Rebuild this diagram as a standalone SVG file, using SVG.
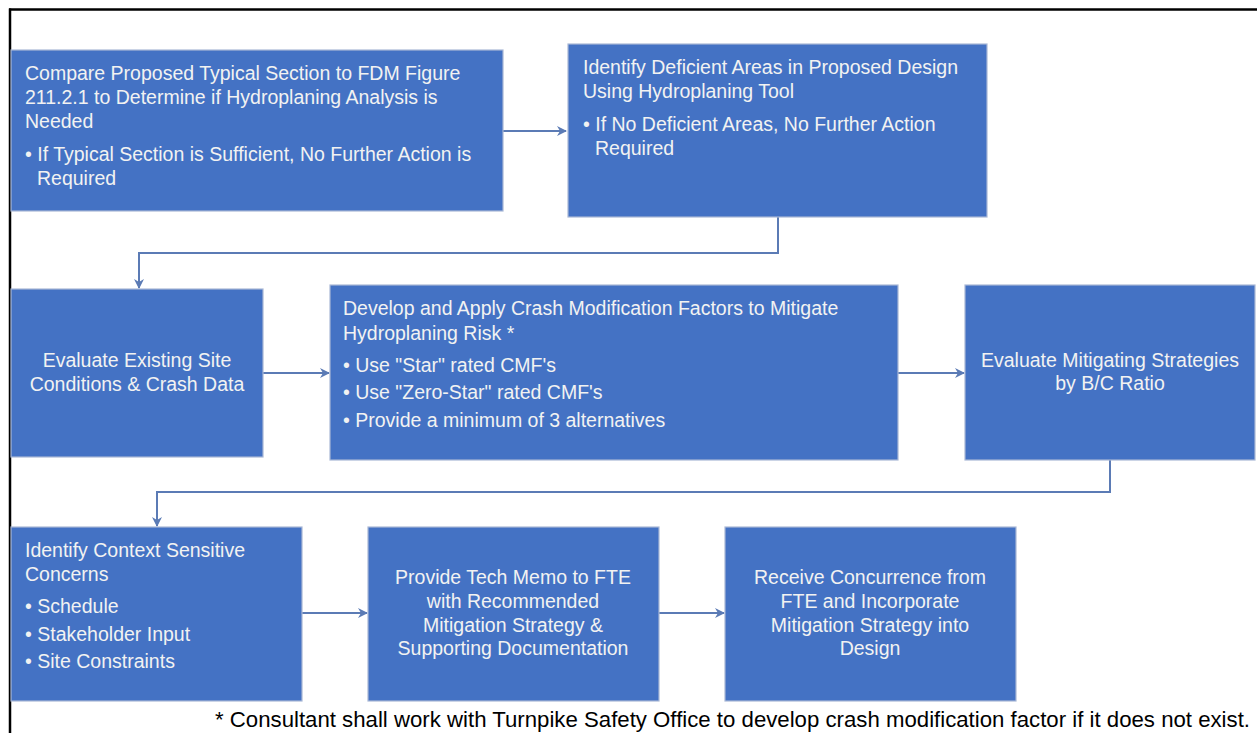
<svg xmlns="http://www.w3.org/2000/svg" width="1257" height="733" viewBox="0 0 1257 733">
<defs>
<style>
.box{fill:#4472C4;stroke:#A9B8D6;stroke-width:1.2}
.t{font-family:"Liberation Sans",Arial,sans-serif;font-size:19.5px;fill:#F2F2F2}
.c{text-anchor:middle}
.conn{fill:none;stroke:#5B7BB5;stroke-width:2}
.note{font-family:"Liberation Sans",Arial,sans-serif;font-size:22px;fill:#000}
</style>
<marker id="arr" viewBox="0 0 10 10" refX="9" refY="5" markerWidth="5" markerHeight="5" orient="auto" markerUnits="strokeWidth">
<path d="M0,0 L10,5 L0,10 L3,5 Z" fill="#5B7BB5"/>
</marker>
</defs>
<rect width="1257" height="733" fill="#fff"/>
<g id="frame">
<line x1="9" y1="9.5" x2="1257" y2="9.5" stroke="#000" stroke-width="2.5"/>
<line x1="10" y1="8.5" x2="10" y2="733" stroke="#000" stroke-width="2.5"/>
</g>
<g id="connectors">
<line class="conn" x1="503" y1="131" x2="566" y2="131" marker-end="url(#arr)"/>
<polyline class="conn" points="778,217 778,253 139,253 139,288" marker-end="url(#arr)"/>
<line class="conn" x1="263" y1="373" x2="329" y2="373" marker-end="url(#arr)"/>
<line class="conn" x1="898" y1="373" x2="964" y2="373" marker-end="url(#arr)"/>
<polyline class="conn" points="1110,460 1110,492 157,492 157,526" marker-end="url(#arr)"/>
<line class="conn" x1="302" y1="613" x2="367" y2="613" marker-end="url(#arr)"/>
<line class="conn" x1="659" y1="613" x2="724" y2="613" marker-end="url(#arr)"/>
</g>
<g id="node1">
<rect class="box" x="11" y="50" width="492" height="161"/>
<text class="t" x="25" y="80">Compare Proposed Typical Section to FDM Figure</text>
<text class="t" x="25" y="104">211.2.1 to Determine if Hydroplaning Analysis is</text>
<text class="t" x="25" y="128">Needed</text>
<text class="t" x="25" y="161">• If Typical Section is Sufficient, No Further Action is</text>
<text class="t" x="37" y="185">Required</text>
</g>
<g id="node2">
<rect class="box" x="568" y="44" width="419" height="173"/>
<text class="t" x="583" y="74">Identify Deficient Areas in Proposed Design</text>
<text class="t" x="583" y="98">Using Hydroplaning Tool</text>
<text class="t" x="583" y="131">• If No Deficient Areas, No Further Action</text>
<text class="t" x="595" y="155">Required</text>
</g>
<g id="node3">
<rect class="box" x="11" y="289" width="252" height="168"/>
<text class="t c" x="137" y="367">Evaluate Existing Site</text>
<text class="t c" x="137" y="391">Conditions &amp; Crash Data</text>
</g>
<g id="node4">
<rect class="box" x="330" y="285" width="568" height="175"/>
<text class="t" x="343" y="315">Develop and Apply Crash Modification Factors to Mitigate</text>
<text class="t" x="343" y="340">Hydroplaning Risk *</text>
<text class="t" x="343" y="372">• Use "Star" rated CMF's</text>
<text class="t" x="343" y="399">• Use "Zero-Star" rated CMF's</text>
<text class="t" x="343" y="427">• Provide a minimum of 3 alternatives</text>
</g>
<g id="node5">
<rect class="box" x="965" y="285" width="290" height="175"/>
<text class="t c" x="1110" y="367">Evaluate Mitigating Strategies</text>
<text class="t c" x="1110" y="390">by B/C Ratio</text>
</g>
<g id="node6">
<rect class="box" x="11" y="527" width="291" height="174"/>
<text class="t" x="25" y="557">Identify Context Sensitive</text>
<text class="t" x="25" y="581">Concerns</text>
<text class="t" x="25" y="613">• Schedule</text>
<text class="t" x="25" y="641">• Stakeholder Input</text>
<text class="t" x="25" y="668">• Site Constraints</text>
</g>
<g id="node7">
<rect class="box" x="368" y="527" width="291" height="174"/>
<text class="t c" x="513" y="584">Provide Tech Memo to FTE</text>
<text class="t c" x="513" y="608">with Recommended</text>
<text class="t c" x="513" y="632">Mitigation Strategy &amp;</text>
<text class="t c" x="513" y="655">Supporting Documentation</text>
</g>
<g id="node8">
<rect class="box" x="725" y="527" width="291" height="174"/>
<text class="t c" x="870" y="584">Receive Concurrence from</text>
<text class="t c" x="870" y="608">FTE and Incorporate</text>
<text class="t c" x="870" y="632">Mitigation Strategy into</text>
<text class="t c" x="870" y="655">Design</text>
</g>
<g id="footnote">
<text class="note" x="215" y="727" textLength="1035" lengthAdjust="spacingAndGlyphs">* Consultant shall work with Turnpike Safety Office to develop crash modification factor if it does not exist.</text>
</g>
</svg>
